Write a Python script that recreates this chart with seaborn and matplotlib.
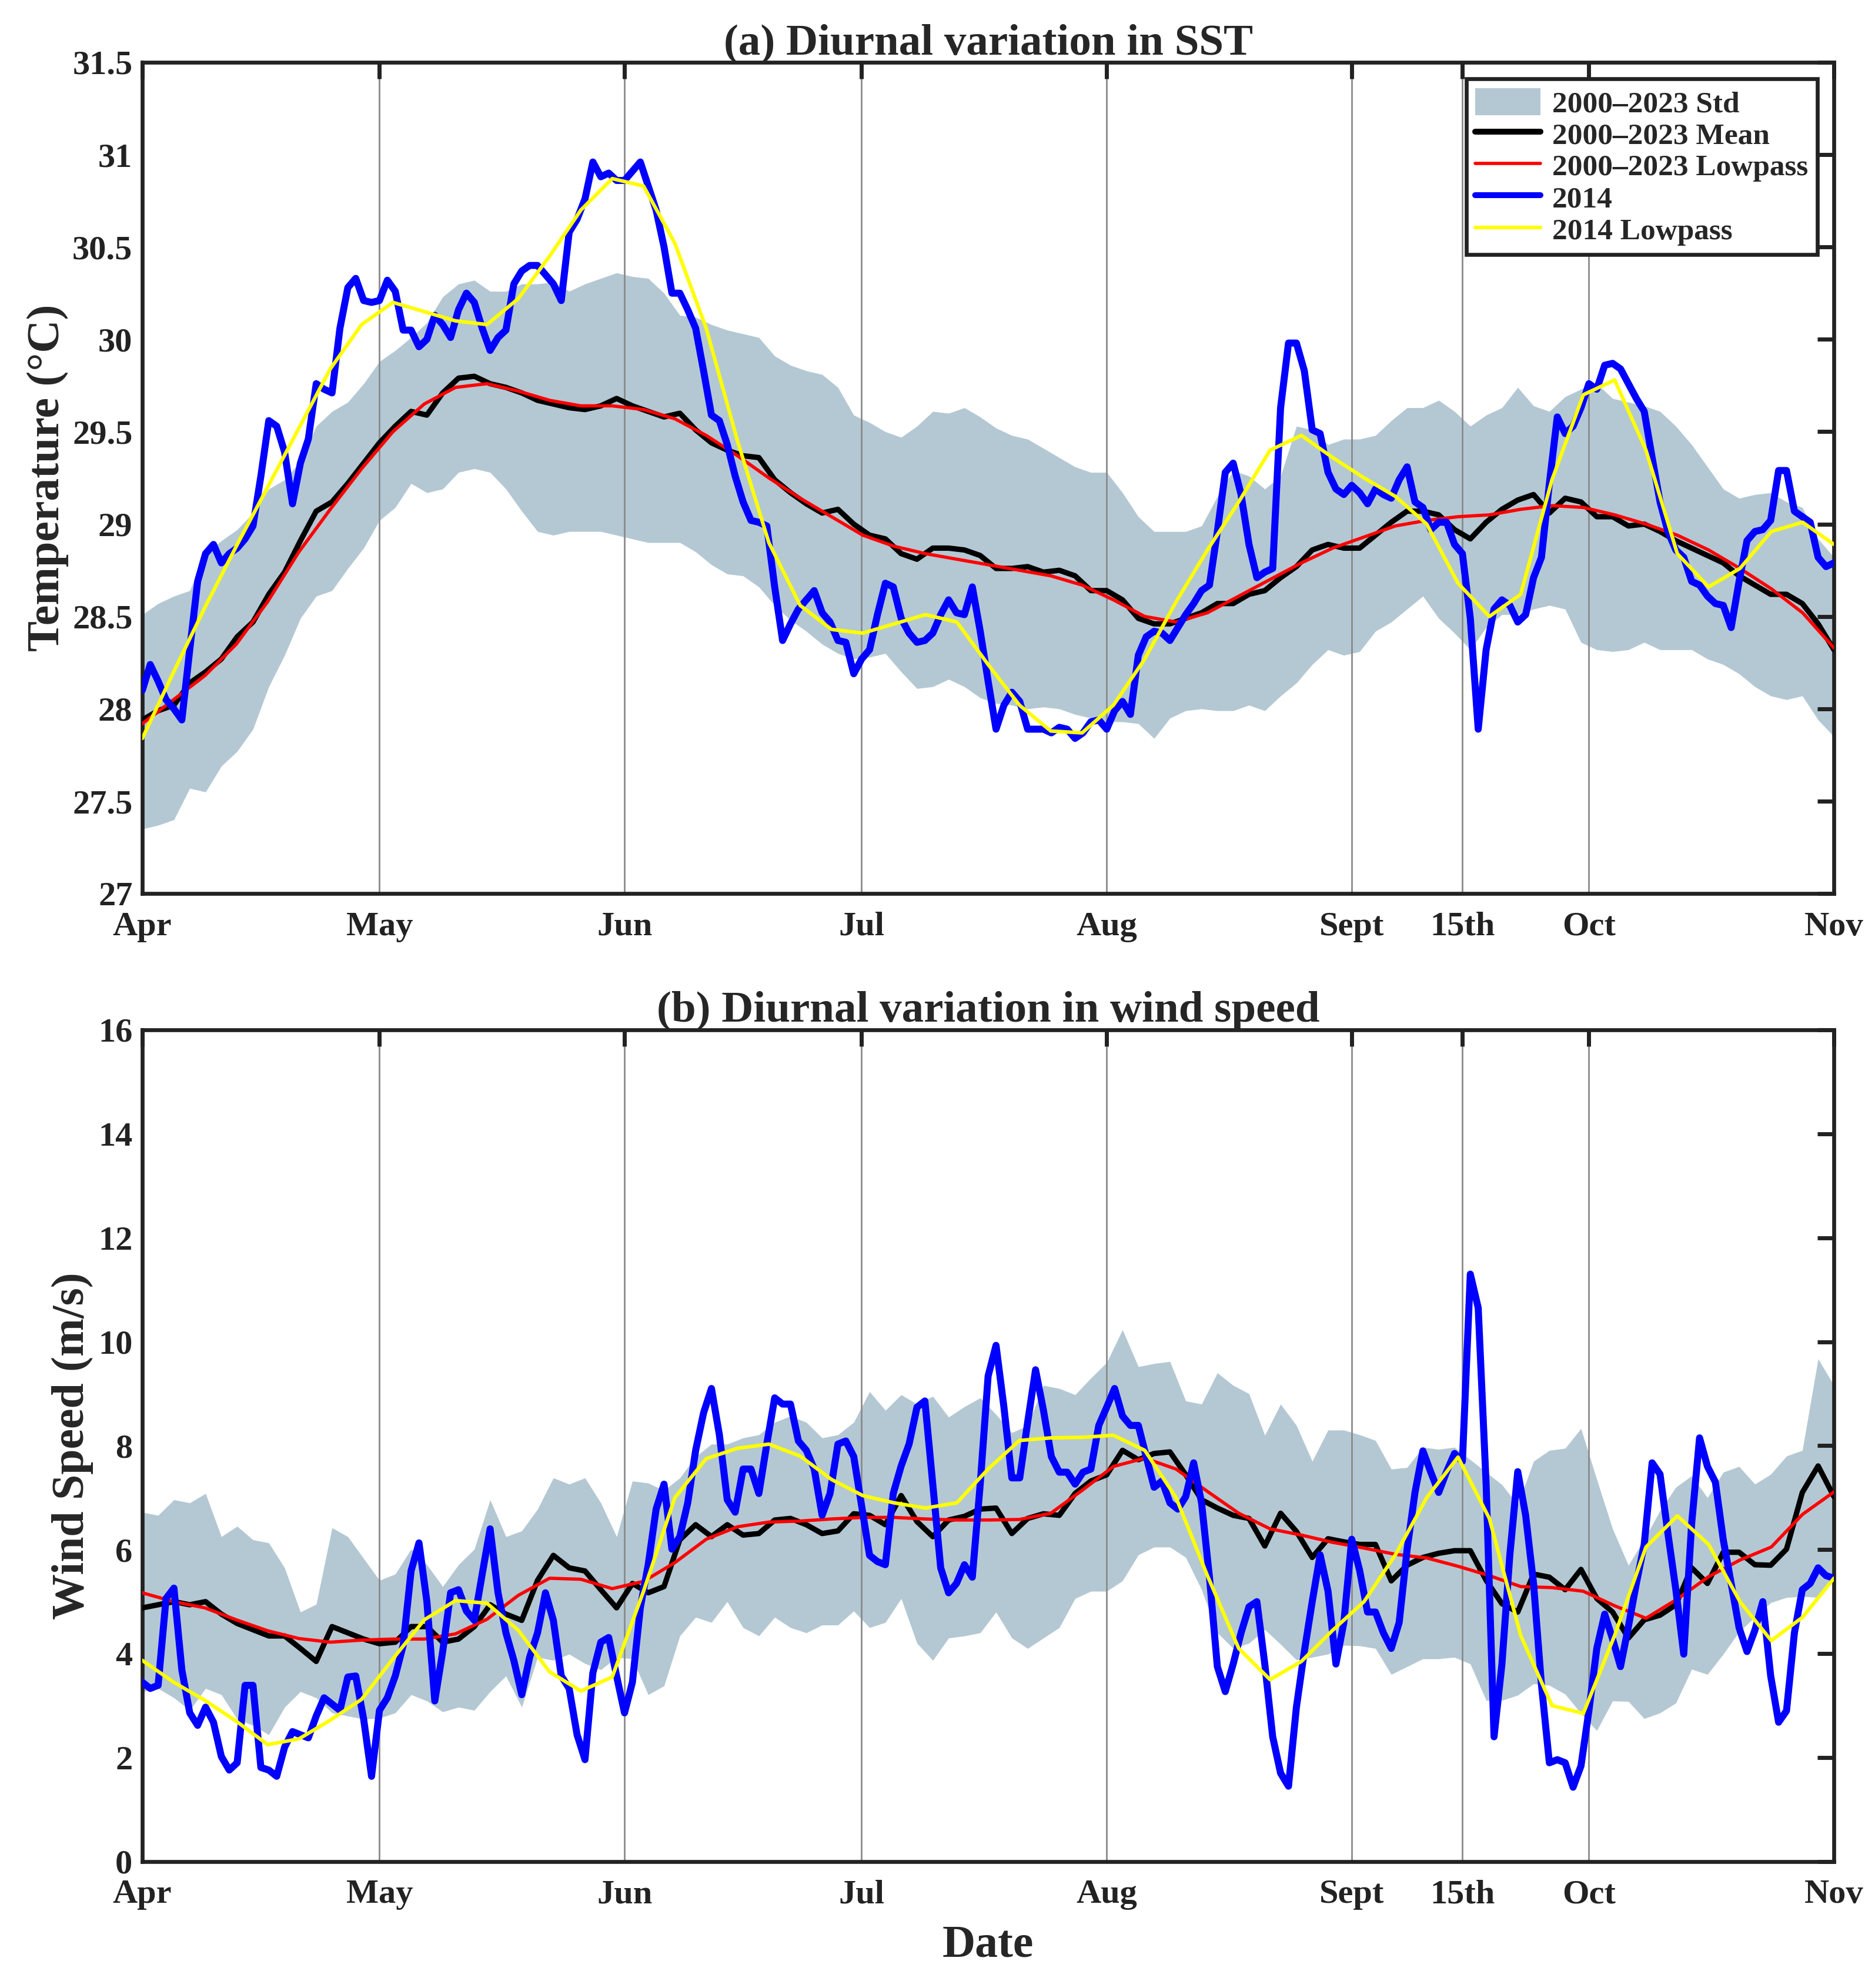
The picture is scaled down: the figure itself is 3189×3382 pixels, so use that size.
import numpy as np
import pandas as pd
import seaborn as sns
import matplotlib.pyplot as plt
from matplotlib.patches import Patch
from matplotlib.lines import Line2D
from matplotlib.ticker import FuncFormatter

# ---- (a) SST, values ----
# daily 2014 SST, 1 Apr .. 1 Nov
sst_2014 = [
    28.10, 28.24, 28.15, 28.05, 28.00, 27.94, 28.32, 28.69, 28.84, 28.89,
    28.79, 28.84, 28.87, 28.92, 28.99, 29.26, 29.56, 29.53, 29.39, 29.11,
    29.33, 29.46, 29.76, 29.73, 29.71, 30.06, 30.28, 30.33, 30.21, 30.20,
    30.21, 30.32, 30.26, 30.05, 30.05, 29.96, 30.00, 30.13, 30.08, 30.01,
    30.16, 30.25, 30.20, 30.06, 29.94, 30.01, 30.05, 30.30, 30.37, 30.40,
    30.40, 30.35, 30.30, 30.21, 30.58, 30.65, 30.76, 30.96, 30.88, 30.90,
    30.86, 30.86, 30.91, 30.96, 30.83, 30.70, 30.50, 30.25, 30.25, 30.16,
    30.06, 29.83, 29.59, 29.56, 29.43, 29.26, 29.12, 29.02, 29.01, 28.99,
    28.66, 28.37, 28.46, 28.54, 28.59, 28.64, 28.52, 28.47, 28.37, 28.36,
    28.19, 28.27, 28.32, 28.51, 28.68, 28.66, 28.49, 28.41, 28.36, 28.37,
    28.41, 28.51, 28.59, 28.52, 28.51, 28.66, 28.42, 28.15, 27.89, 28.02,
    28.09, 28.04, 27.89, 27.89, 27.89, 27.87, 27.90, 27.89, 27.84, 27.87,
    27.93, 27.94, 27.89, 27.99, 28.04, 27.97, 28.29, 28.39, 28.42, 28.41,
    28.37, 28.44, 28.51, 28.57, 28.64, 28.67, 28.96, 29.28, 29.33, 29.16,
    28.89, 28.71, 28.74, 28.76, 29.63, 29.98, 29.98, 29.83, 29.51, 29.49,
    29.28, 29.19, 29.16, 29.21, 29.17, 29.11, 29.19, 29.16, 29.14, 29.24,
    29.31, 29.12, 29.09, 28.97, 29.01, 29.01, 28.89, 28.84, 28.49, 27.89,
    28.32, 28.54, 28.59, 28.56, 28.47, 28.51, 28.71, 28.82, 29.22, 29.58,
    29.49, 29.53, 29.63, 29.76, 29.73, 29.86, 29.87, 29.84, 29.76, 29.68,
    29.61, 29.36, 29.12, 28.96, 28.86, 28.82, 28.69, 28.67, 28.61, 28.57,
    28.56, 28.44, 28.69, 28.91, 28.96, 28.97, 29.02, 29.29, 29.29, 29.07,
    29.04, 29.01, 28.82, 28.77, 28.79,
]
# 2000-2023 climatology, every 2 days
sst_mean = [
    27.94, 27.99, 28.02, 28.14, 28.20, 28.27, 28.39, 28.47, 28.62, 28.74,
    28.91, 29.07, 29.12, 29.22, 29.33, 29.44, 29.53, 29.61, 29.59, 29.71,
    29.79, 29.80, 29.76, 29.74, 29.71, 29.67, 29.65, 29.63, 29.62, 29.64,
    29.68, 29.64, 29.61, 29.58, 29.60, 29.51, 29.44, 29.40, 29.37, 29.36,
    29.24, 29.17, 29.11, 29.06, 29.08, 29.00, 28.94, 28.92, 28.84, 28.81,
    28.87, 28.87, 28.86, 28.83, 28.76, 28.76, 28.77, 28.74, 28.75, 28.72,
    28.64, 28.64, 28.59, 28.49, 28.46, 28.46, 28.49, 28.52, 28.57, 28.57,
    28.62, 28.64, 28.71, 28.77, 28.86, 28.89, 28.87, 28.87, 28.94, 29.01,
    29.07, 29.07, 29.05, 28.97, 28.92, 29.01, 29.08, 29.13, 29.16, 29.06,
    29.14, 29.12, 29.04, 29.04, 28.99, 29.00, 28.96, 28.91, 28.87, 28.83,
    28.79, 28.72, 28.67, 28.62, 28.62, 28.57, 28.46, 28.32,
]
sst_std_hi = [
    28.51, 28.57, 28.61, 28.64, 28.84, 28.91, 28.97, 29.06, 29.19, 29.24,
    29.34, 29.53, 29.61, 29.66, 29.76, 29.88, 29.94, 30.01, 30.09, 30.23,
    30.30, 30.32, 30.26, 30.26, 30.30, 30.30, 30.31, 30.26, 30.30, 30.33,
    30.36, 30.34, 30.33, 30.25, 30.13, 30.12, 30.08, 30.05, 30.03, 30.01,
    29.91, 29.86, 29.83, 29.81, 29.74, 29.59, 29.55, 29.50, 29.47, 29.53,
    29.61, 29.60, 29.63, 29.58, 29.52, 29.48, 29.46, 29.41, 29.36, 29.31,
    29.28, 29.28, 29.17, 29.04, 28.96, 28.96, 28.96, 28.99, 29.15, 29.29,
    29.26, 29.19, 29.26, 29.53, 29.51, 29.43, 29.46, 29.46, 29.48, 29.56,
    29.63, 29.63, 29.67, 29.61, 29.53, 29.59, 29.63, 29.74, 29.64, 29.61,
    29.69, 29.73, 29.76, 29.68, 29.66, 29.64, 29.61, 29.53, 29.43, 29.31,
    29.19, 29.14, 29.16, 29.17, 29.12, 29.09, 28.92, 28.82,
]
sst_std_lo = [
    27.35, 27.37, 27.40, 27.57, 27.55, 27.69, 27.77, 27.89, 28.12, 28.29,
    28.49, 28.61, 28.64, 28.76, 28.87, 29.02, 29.09, 29.22, 29.17, 29.19,
    29.28, 29.30, 29.28, 29.19, 29.07, 28.96, 28.94, 28.96, 28.96, 28.96,
    28.94, 28.92, 28.90, 28.90, 28.90, 28.85, 28.78, 28.73, 28.72, 28.66,
    28.56, 28.48, 28.42, 28.35, 28.30, 28.27, 28.28, 28.30, 28.20, 28.11,
    28.12, 28.16, 28.12, 28.06, 28.03, 28.02, 28.00, 28.01, 28.00, 27.97,
    27.95, 27.93, 27.93, 27.92, 27.84, 27.95, 27.99, 28.00, 27.99, 27.99,
    28.02, 27.99, 28.07, 28.14, 28.24, 28.32, 28.29, 28.31, 28.42, 28.47,
    28.54, 28.61, 28.49, 28.41, 28.32, 28.44, 28.51, 28.51, 28.54, 28.56,
    28.54, 28.36, 28.32, 28.31, 28.32, 28.36, 28.32, 28.32, 28.32, 28.27,
    28.24, 28.19, 28.12, 28.07, 28.05, 28.07, 27.94, 27.85,
]
# lowpass curves, ~4 day spacing
sst_mean_lp = [
    27.92, 28.05, 28.18, 28.35, 28.58, 28.85, 29.08, 29.30, 29.50, 29.65,
    29.74, 29.76, 29.72, 29.67, 29.64, 29.64, 29.62, 29.57, 29.48, 29.37,
    29.25, 29.14, 29.04, 28.94, 28.88, 28.84, 28.81, 28.78, 28.75, 28.72,
    28.67, 28.59, 28.50, 28.47, 28.52, 28.61, 28.70, 28.79, 28.87, 28.93,
    28.99, 29.02, 29.04, 29.05, 29.08, 29.10, 29.09, 29.05, 29.00, 28.94,
    28.86, 28.76, 28.65, 28.52, 28.33,
]
sst_2014_lp = [
    27.84, 28.20, 28.55, 28.88, 29.20, 29.52, 29.84, 30.08, 30.20, 30.15,
    30.10, 30.08, 30.22, 30.45, 30.70, 30.87, 30.83, 30.52, 30.06, 29.45,
    28.90, 28.56, 28.43, 28.41, 28.46, 28.51, 28.47, 28.24, 28.02, 27.88,
    27.87, 28.02, 28.27, 28.58, 28.86, 29.12, 29.40, 29.48, 29.36, 29.25,
    29.15, 29.00, 28.68, 28.50, 28.62, 29.24, 29.70, 29.78, 29.40, 28.84,
    28.66, 28.76, 28.96, 29.01, 28.89,
]

# ---- (b) wind speed ----
wind_2014 = [
    3.45, 3.33, 3.39, 5.06, 5.26, 3.69, 2.86, 2.62, 2.97, 2.68,
    2.02, 1.76, 1.90, 3.39, 3.39, 1.81, 1.76, 1.64, 2.20, 2.50,
    2.44, 2.38, 2.80, 3.15, 3.03, 2.91, 3.55, 3.57, 2.74, 1.64,
    2.91, 3.15, 3.57, 4.16, 5.59, 6.13, 5.00, 3.09, 4.04, 5.17,
    5.23, 4.82, 4.64, 5.53, 6.40, 5.17, 4.40, 3.87, 3.21, 3.93,
    4.40, 5.17, 4.64, 3.57, 3.33, 2.44, 1.96, 3.63, 4.22, 4.31,
    3.57, 2.86, 3.45, 4.88, 5.71, 6.78, 7.26, 6.01, 6.25, 6.90,
    7.91, 8.63, 9.10, 8.21, 6.96, 6.72, 7.55, 7.55, 7.08, 8.03,
    8.92, 8.80, 8.80, 8.09, 7.91, 7.55, 6.66, 7.08, 8.03, 8.09,
    7.79, 6.84, 5.89, 5.77, 5.71, 7.08, 7.61, 8.03, 8.74, 8.86,
    7.26, 5.65, 5.17, 5.35, 5.71, 5.47, 7.26, 9.34, 9.93, 8.74,
    7.38, 7.38, 8.45, 9.46, 8.68, 7.79, 7.49, 7.49, 7.26, 7.49,
    7.55, 8.39, 8.74, 9.10, 8.57, 8.39, 8.39, 7.79, 7.20, 7.32,
    6.90, 6.78, 7.02, 7.67, 6.90, 5.47, 3.75, 3.27, 3.80, 4.40,
    4.90, 5.00, 3.80, 2.40, 1.70, 1.45, 2.97, 4.04, 5.00, 5.90,
    5.20, 3.80, 4.60, 6.20, 5.60, 4.80, 4.80, 4.40, 4.10, 4.60,
    6.00, 7.10, 7.90, 7.49, 7.10, 7.50, 7.85, 7.70, 11.30, 10.65,
    7.26, 2.40, 3.80, 5.90, 7.50, 6.66, 5.35, 3.40, 1.90, 1.96,
    1.90, 1.43, 1.84, 2.90, 4.10, 4.76, 4.28, 3.75, 4.52, 5.35,
    6.10, 7.67, 7.45, 6.31, 5.23, 3.99, 6.50, 8.15, 7.60, 7.30,
    6.19, 5.35, 4.50, 4.04, 4.45, 5.00, 3.57, 2.68, 2.90, 4.40,
    5.23, 5.35, 5.65, 5.50, 5.45,
]
wind_mean = [
    4.88, 4.94, 5.00, 4.94, 5.00, 4.76, 4.58, 4.46, 4.34, 4.34,
    4.10, 3.85, 4.52, 4.40, 4.28, 4.19, 4.22, 4.52, 4.52, 4.22,
    4.28, 4.52, 4.94, 4.76, 4.64, 5.41, 5.89, 5.65, 5.59, 5.23,
    4.88, 5.35, 5.17, 5.29, 6.19, 6.48, 6.25, 6.48, 6.28, 6.31,
    6.57, 6.60, 6.48, 6.31, 6.36, 6.69, 6.66, 6.48, 7.04, 6.54,
    6.25, 6.57, 6.64, 6.78, 6.80, 6.31, 6.60, 6.69, 6.66, 7.08,
    7.32, 7.44, 7.91, 7.73, 7.85, 7.88, 7.44, 6.96, 6.80, 6.66,
    6.60, 6.07, 6.70, 6.35, 5.85, 6.21, 6.15, 6.10, 6.10, 5.40,
    5.70, 5.85, 5.93, 5.98, 5.98, 5.41, 4.96, 4.80, 5.53, 5.47,
    5.23, 5.62, 5.06, 4.80, 4.30, 4.65, 4.74, 4.94, 5.65, 5.35,
    5.95, 5.95, 5.71, 5.70, 6.01, 7.10, 7.61, 7.02,
]
wind_std_hi = [
    6.72, 6.66, 6.96, 6.90, 7.08, 6.25, 6.45, 6.19, 6.13, 5.65,
    4.80, 4.95, 6.42, 6.25, 5.83, 5.41, 5.53, 6.01, 5.71, 5.29,
    5.71, 6.01, 6.96, 6.25, 6.36, 6.78, 7.38, 7.26, 7.38, 6.90,
    6.25, 7.32, 7.28, 7.14, 7.38, 7.79, 8.03, 8.03, 8.15, 8.21,
    8.45, 8.57, 8.45, 8.15, 8.21, 8.45, 9.04, 8.68, 8.98, 8.80,
    8.95, 8.55, 8.75, 8.92, 8.60, 8.25, 8.39, 9.16, 9.10, 8.98,
    9.30, 9.60, 10.23, 9.52, 9.58, 9.62, 8.86, 8.80, 9.40, 9.16,
    9.00, 8.20, 8.80, 8.39, 7.70, 8.30, 8.30, 8.21, 8.10, 7.55,
    7.58, 7.97, 7.93, 7.97, 7.73, 7.49, 7.25, 6.86, 7.70, 7.91,
    7.95, 8.33, 7.35, 6.40, 5.70, 6.20, 6.75, 7.20, 7.42, 7.00,
    7.49, 7.60, 7.26, 7.45, 7.80, 7.91, 9.67, 9.16,
]
wind_std_lo = [
    3.27, 3.33, 3.15, 2.91, 3.33, 3.21, 2.74, 2.62, 2.44, 2.97,
    3.27, 3.15, 2.86, 2.80, 2.74, 2.76, 2.86, 3.21, 3.09, 2.88,
    2.97, 2.91, 3.27, 3.57, 2.97, 3.93, 3.87, 3.99, 3.81, 3.69,
    3.93, 3.90, 3.21, 3.38, 4.34, 4.70, 4.60, 5.00, 4.50, 4.34,
    4.70, 4.50, 4.40, 4.55, 4.55, 4.82, 4.50, 4.60, 5.06, 4.20,
    3.87, 4.30, 4.34, 4.40, 4.80, 4.30, 4.10, 4.30, 4.50, 5.06,
    5.20, 5.20, 5.40, 5.90, 6.05, 6.05, 5.85, 5.23, 4.40, 4.10,
    4.20, 4.46, 4.18, 3.88, 3.93, 3.99, 4.16, 4.15, 4.10, 3.60,
    3.75, 3.90, 3.90, 3.93, 3.80, 3.10, 3.10, 3.20, 3.42, 3.39,
    3.22, 2.85, 2.52, 3.09, 3.08, 2.75, 2.86, 3.05, 3.70, 3.60,
    3.99, 4.42, 4.70, 4.98, 5.08, 5.10, 5.08, 5.47,
]
wind_mean_lp = [
    5.17, 5.00, 4.88, 4.65, 4.44, 4.29, 4.22, 4.26, 4.28, 4.28,
    4.38, 4.66, 5.12, 5.45, 5.43, 5.25, 5.39, 5.75, 6.20, 6.44,
    6.53, 6.55, 6.59, 6.62, 6.62, 6.59, 6.57, 6.57, 6.58, 6.70,
    7.14, 7.60, 7.76, 7.55, 7.12, 6.70, 6.40, 6.28, 6.14, 6.03,
    5.91, 5.84, 5.68, 5.50, 5.29, 5.27, 5.20, 4.92, 4.68, 5.05,
    5.48, 5.80, 6.05, 6.68, 7.11,
]
wind_2014_lp = [
    3.87, 3.45, 3.10, 2.70, 2.25, 2.36, 2.72, 3.12, 3.90, 4.65,
    5.02, 4.97, 4.45, 3.65, 3.28, 3.55, 5.20, 7.00, 7.75, 7.95,
    8.03, 7.80, 7.35, 7.04, 6.90, 6.80, 6.90, 7.55, 8.10, 8.15,
    8.16, 8.20, 7.91, 7.00, 5.50, 4.10, 3.50, 3.85, 4.45, 5.00,
    5.90, 7.00, 7.78, 6.60, 4.35, 3.00, 2.85, 4.35, 6.05, 6.65,
    6.10, 5.00, 4.25, 4.70, 5.45,
]

tick_dates = ["2014-04-01", "2014-05-01", "2014-06-01", "2014-07-01", "2014-08-01",
              "2014-09-01", "2014-09-15", "2014-10-01", "2014-11-01"]
tick_labels = ["Apr", "May", "Jun", "Jul", "Aug", "Sept", "15th", "Oct", "Nov"]

std_color = "#b4c8d3"


def dates_for(values):
    # series are sampled evenly between 1 Apr and 1 Nov
    return pd.date_range("2014-04-01", "2014-11-01", periods=len(values))


sns.set_style("white")
plt.rcParams["font.family"] = ["Liberation Serif", "DejaVu Serif"]
plt.rcParams["font.weight"] = "bold"
plt.rcParams["axes.labelweight"] = "bold"
plt.rcParams["axes.titleweight"] = "bold"

fig = plt.figure(figsize=(15.945, 16.91), dpi=200)
ax1 = fig.add_axes([0.0759, 0.5505, 0.9022, 0.4182])
ax2 = fig.add_axes([0.0759, 0.0636, 0.9022, 0.4184])


def draw_panel(ax, hi, lo, mean, mean_lp, yr, yr_lp):
    ax.fill_between(dates_for(hi), lo, hi, color=std_color, linewidth=0, zorder=1)
    sns.lineplot(x=dates_for(mean), y=mean, ax=ax, color="black", linewidth=3.3, zorder=3)
    sns.lineplot(x=dates_for(mean_lp), y=mean_lp, ax=ax, color="red", linewidth=2.0, zorder=4)
    sns.lineplot(x=dates_for(yr), y=yr, ax=ax, color="blue", linewidth=4.3, zorder=5)
    sns.lineplot(x=dates_for(yr_lp), y=yr_lp, ax=ax, color="yellow", linewidth=2.2, zorder=6)


def style_axes(ax, ylim, yticks, ylabel, title, labelpad):
    ax.set_xlim(pd.Timestamp("2014-04-01"), pd.Timestamp("2014-11-01"))
    ax.set_xticks(pd.to_datetime(tick_dates))
    ax.set_xticklabels(tick_labels)
    ax.set_ylim(*ylim)
    ax.set_yticks(yticks)
    ax.yaxis.set_major_formatter(FuncFormatter(lambda v, p: f"{v:g}"))
    ax.set_axisbelow("line")
    ax.xaxis.grid(True, color="#8a8a8a", linewidth=1.0)
    ax.yaxis.grid(False)
    ax.tick_params(direction="in", length=10, width=2.5, top=True, right=True,
                   labelsize=21, colors="#222222")
    ax.tick_params(axis="x", pad=11)
    ax.tick_params(axis="y", pad=6)
    for lab in ax.get_xticklabels() + ax.get_yticklabels():
        lab.set_fontweight("bold")
    for sp in ax.spines.values():
        sp.set_linewidth(2.4)
        sp.set_color("#222222")
    ax.set_ylabel(ylabel, fontsize=28, labelpad=labelpad)
    ax.set_title(title, fontsize=27, pad=5)


draw_panel(ax1, sst_std_hi, sst_std_lo, sst_mean, sst_mean_lp, sst_2014, sst_2014_lp)
style_axes(ax1, (27, 31.5), np.arange(27, 31.51, 0.5), "Temperature (°C)",
           "(a) Diurnal variation in SST", 2)
ax1.set_xlabel("")

draw_panel(ax2, wind_std_hi, wind_std_lo, wind_mean, wind_mean_lp, wind_2014, wind_2014_lp)
style_axes(ax2, (0, 16), np.arange(0, 16.1, 2), "Wind Speed (m/s)",
           "(b) Diurnal variation in wind speed", 3)
ax2.set_xlabel("Date", fontsize=28, labelpad=9)

handles = [
    Patch(facecolor=std_color, edgecolor="none"),
    Line2D([], [], color="black", linewidth=3.6),
    Line2D([], [], color="red", linewidth=2.0),
    Line2D([], [], color="blue", linewidth=3.6),
    Line2D([], [], color="yellow", linewidth=2.2),
]
labels = ["2000–2023 Std", "2000–2023 Mean", "2000–2023 Lowpass", "2014", "2014 Lowpass"]
leg = ax1.legend(handles, labels, loc="upper right", fontsize=18.5, frameon=True,
                 fancybox=False, framealpha=1, edgecolor="#222222",
                 handlelength=2.15, handleheight=1.0, handletextpad=0.4, labelspacing=0.05,
                 borderpad=0.3, borderaxespad=0.55)
leg.get_frame().set_linewidth(2.4)
leg.set_zorder(10)

fig.savefig("out.png", dpi=200)
